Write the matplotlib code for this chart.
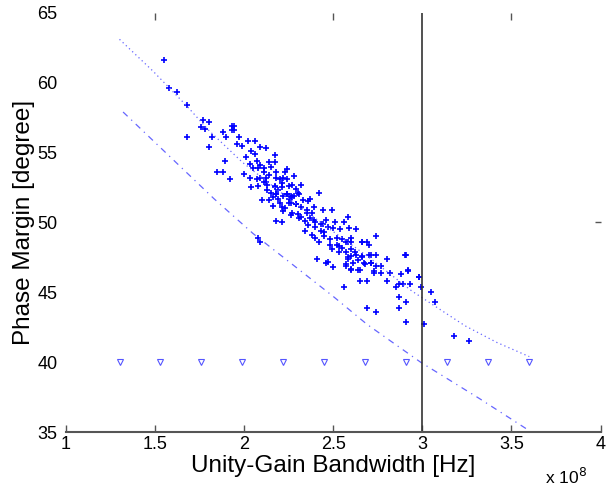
import matplotlib.pyplot as plt
import numpy as np

plt.rcParams['font.family'] = ['Liberation Sans', 'DejaVu Sans']

# Monte Carlo samples (bandwidth in 1e8 Hz, phase margin in degrees)
mc_bw = [1.55, 1.62, 1.58, 1.68, 1.77, 1.80, 1.76, 1.78, 1.88, 1.94, 1.94, 1.68, 1.82, 1.90,
         1.93, 1.93, 1.97, 1.99, 2.02, 2.06, 1.96, 1.80, 2.09, 2.12, 2.04, 2.17, 1.89, 1.85,
         1.88, 2.03, 2.07, 2.09, 2.14, 2.17, 2.08, 2.11, 2.15, 2.03, 2.07, 2.09, 2.12, 2.18,
         2.24, 2.04, 2.08, 2.13, 2.17, 2.21, 2.24, 2.27, 1.92, 2.15, 2.18, 2.10, 2.14, 2.22,
         2.24, 2.27, 2.30, 2.25, 2.29, 2.16, 2.21,
         2.18, 2.23, 2.20, 2.22, 2.28, 2.32, 2.17, 2.21, 2.25, 2.29, 2.18, 2.24, 2.28, 2.31,
         2.37, 2.42, 2.36, 2.20, 2.26, 2.29, 2.32, 2.39, 2.22, 2.27, 2.35, 2.38, 2.44, 2.49,
         2.18, 2.21, 2.32, 2.40, 2.44, 2.46, 2.51, 2.56, 2.58, 2.50, 2.54, 2.59, 2.63, 2.34,
         2.38, 2.45, 2.52, 2.55, 2.58, 2.60, 2.66, 2.69, 2.42, 2.49, 2.53, 2.60, 2.63, 2.66,
         2.70, 2.74, 2.58, 2.41, 2.47, 2.50, 2.57, 2.60, 2.64, 2.71, 2.73,
         2.57, 2.60, 2.66, 2.70, 2.74, 2.57, 2.60, 2.66, 2.71, 2.58, 2.57, 2.61, 2.67, 2.71,
         2.60, 2.65, 2.74, 2.77, 2.80, 2.91, 2.73, 2.77, 2.82, 2.92, 2.98, 2.65, 2.69, 2.80,
         2.87, 2.88, 2.89, 2.93, 2.85, 2.56, 2.87, 2.91, 3.05, 3.07, 2.69, 2.74, 2.87, 2.91,
         3.01, 3.18, 3.26, 2.90, 2.92, 2.98, 2.99, 2.08, 2.09, 2.46,
         2.11, 2.13, 2.16, 2.19, 2.23, 2.26, 2.31, 2.34, 2.36, 2.40, 2.43, 2.47, 2.48, 2.52,
         2.55, 2.35, 2.33, 2.30, 2.26, 2.14, 2.06, 2.01, 2.12, 2.19, 2.37, 2.43, 2.48, 2.62,
         2.64, 2.68, 2.45, 2.53, 2.40, 2.05, 2.00, 2.11, 2.25, 2.39]
mc_pm = [61.6, 59.3, 59.6, 58.4, 57.3, 57.2, 56.8, 56.7, 56.5, 56.9, 56.6, 56.1, 56.1, 56.1,
         56.9, 56.6, 56.1, 55.5, 55.8, 55.8, 55.6, 55.4, 55.4, 55.3, 55.1, 54.8, 54.4, 53.6,
         53.6, 54.2, 54.4, 54.1, 54.3, 54.3, 53.9, 53.9, 54.0, 53.2, 53.1, 53.2, 53.2, 53.2,
         53.8, 52.5, 52.6, 52.7, 52.5, 52.8, 53.1, 52.7, 53.1, 52.1, 52.0, 51.6, 51.6, 51.9,
         52.0, 51.8, 52.1, 51.4, 51.3, 51.2, 51.1,
         53.6, 53.6, 53.1, 53.2, 53.3, 52.7, 52.6, 52.5, 52.6, 52.4, 52.0, 52.0, 51.9, 52.0,
         51.7, 52.1, 51.5, 51.4, 51.4, 51.3, 51.1, 51.1, 50.8, 50.7, 50.7, 50.7, 50.9, 50.9,
         50.1, 50.0, 50.4, 50.0, 49.9, 50.2, 50.0, 50.0, 50.4, 49.6, 49.5, 49.6, 49.5, 49.4,
         49.1, 49.3, 48.9, 48.8, 48.6, 48.9, 48.6, 48.6, 48.6, 48.1, 47.9, 48.1, 47.7, 47.5,
         47.7, 47.7, 47.5, 47.4, 47.2, 46.8, 46.9, 46.6, 46.6, 47.1, 46.5,
         48.6, 48.6, 48.6, 48.4, 49.0, 47.9, 47.6, 47.6, 47.7, 47.4, 47.0, 47.1, 47.1, 47.1,
         46.7, 46.6, 46.9, 46.9, 47.4, 47.7, 46.4, 46.4, 46.4, 46.5, 46.1, 45.8, 45.8, 45.8,
         45.6, 46.3, 45.6, 45.6, 45.4, 45.4, 44.7, 44.3, 45.0, 44.3, 43.9, 43.6, 43.9, 42.9,
         42.7, 41.9, 41.5, 47.7, 46.6, 46.1, 45.4, 48.9, 48.6, 47.1,
         52.9, 52.3, 51.8, 51.7, 51.0, 50.5, 50.3, 50.1, 49.8, 49.7, 49.4, 49.7, 48.8, 48.4,
         48.2, 50.9, 51.6, 50.6, 51.9, 53.4, 54.9, 54.7, 52.9, 52.3, 50.3, 49.9, 48.4, 47.9,
         47.3, 47.0, 49.0, 48.3, 48.9, 53.9, 53.5, 53.6, 51.7, 50.2]

# nominal design curve (upper) and worst-case curve (lower)
nom_bw = [1.30, 1.49, 1.68, 1.80, 1.99, 2.20, 2.45, 2.70, 2.94, 3.00, 3.24, 3.42, 3.60]
nom_pm = [63.1, 60.8, 58.3, 56.6, 54.3, 52.2, 49.8, 47.5, 45.1, 44.6, 42.6, 41.4, 40.4]
wc_bw = [1.32, 1.60, 1.83, 2.05, 2.31, 2.50, 2.69, 2.99, 3.32, 3.60]
wc_pm = [57.9, 54.5, 51.7, 49.2, 46.6, 44.7, 42.7, 40.0, 37.4, 35.1]

# constraint markers at 40 degrees
spec_bw = [1.30, 1.53, 1.76, 1.99, 2.22, 2.45, 2.68, 2.91, 3.14, 3.37, 3.60]
spec_pm = [40] * len(spec_bw)

target_bw = 3.0

fig = plt.figure(figsize=(6.06, 4.91), dpi=100)
ax = fig.add_axes([0.109, 0.12, 0.882, 0.854])

ax.plot(mc_bw, mc_pm, '+', color='#0000ff', ms=4, mew=1.2, ls='none')
ax.plot(nom_bw, nom_pm, color='#6666ff', lw=0.9, ls=(0, (1, 2.5)))
ax.plot(wc_bw, wc_pm, color='#6666ff', lw=0.9, ls=(0, (5, 4, 1, 4)))
ax.plot(spec_bw, spec_pm, 'v', color='#5555ff', ms=4, mfc='none', mew=0.8, ls='none')
ax.axvline(target_bw, color='#333333', lw=1.2)

ax.set_xlim(1, 4)
ax.set_ylim(35, 65)
ax.set_xticks([1, 1.5, 2, 2.5, 3, 3.5, 4])
ax.set_xticklabels(['1', '1.5', '2', '2.5', '3', '3.5', '4'])
ax.set_yticks([35, 40, 45, 50, 55, 60, 65])

for s in ['top', 'left', 'right']:
    ax.spines[s].set_visible(False)
ax.spines['bottom'].set_color('#555555')
ax.spines['bottom'].set_linewidth(1.5)

ax.tick_params(axis='x', direction='in', length=5, width=1, color='#555555',
               labelsize=13, pad=3)
ax.tick_params(axis='y', length=0, labelsize=13, pad=6)
ax.set_yticks([50], minor=True)
ax.tick_params(axis='y', which='minor', direction='in', length=4, width=1, color='#555555')

top = ax.secondary_xaxis('top')
top.set_xticks([1.5, 2.5, 3.5])
top.set_xticklabels([])
top.tick_params(direction='in', length=5, width=1, color='#555555')
top.spines['top'].set_visible(False)

right = ax.secondary_yaxis('right')
right.set_yticks([50])
right.set_yticklabels([])
right.tick_params(direction='in', length=4, width=1, color='#555555')
right.spines['right'].set_visible(False)

ax.set_xlabel('Unity-Gain Bandwidth [Hz]', fontsize=17.5, labelpad=1)
ax.set_ylabel('Phase Margin [degree]', fontsize=17.5, labelpad=2)
fig.text(0.9, 0.015, r'x 10$^{8}$', fontsize=12.5)

fig.savefig('out.png', dpi=100)
